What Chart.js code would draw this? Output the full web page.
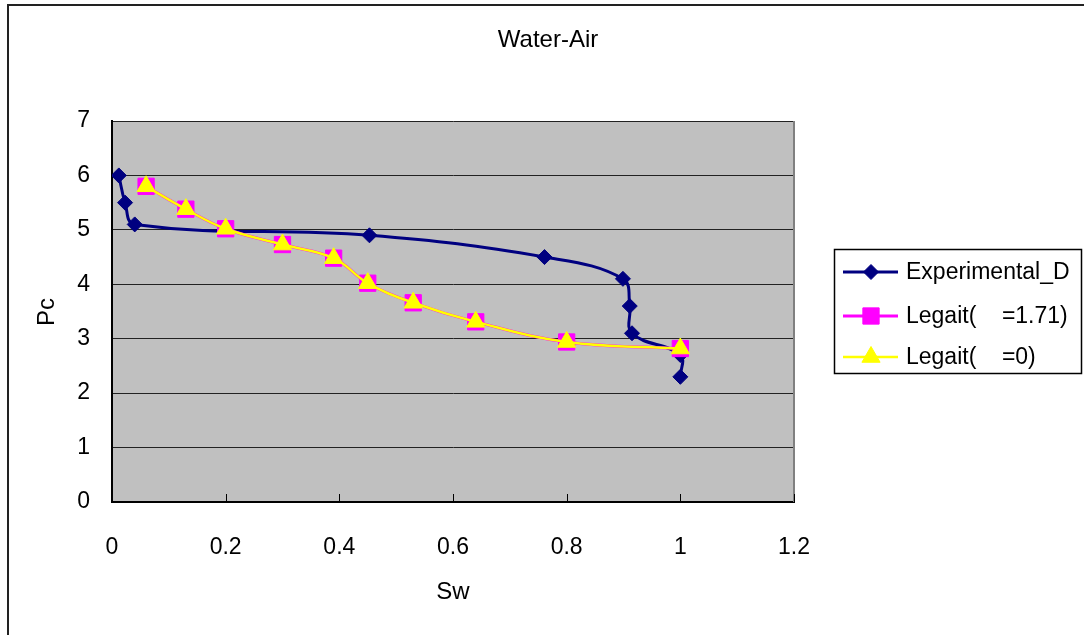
<!DOCTYPE html>
<html>
<head>
<meta charset="utf-8">
<script src="https://cdn.jsdelivr.net/npm/chart.js@4"></script>
<style>
  html, body { margin: 0; padding: 0; background: #fff; }
  canvas { display: block; }
</style>
</head>
<body>
<canvas id="myChart" width="1084" height="635"></canvas>
<script>
// data
const seriesNames = ['Experimental_D', 'Legait(    =1.71)', 'Legait(    =0)'];
const expSw = [0.012, 0.023, 0.04, 0.453, 0.761, 0.899, 0.911, 0.915, 1.0, 1.0];
const expPc = [6.0, 5.5, 5.1, 4.9, 4.5, 4.1, 3.6, 3.1, 2.7, 2.3];
const legSw = [0.06, 0.13, 0.2, 0.3, 0.39, 0.45, 0.53, 0.64, 0.8, 1.0];
const leg171Pc = [5.8, 5.38, 5.02, 4.73, 4.48, 4.02, 3.66, 3.31, 2.94, 2.82];
const leg0Pc = [5.8, 5.38, 5.02, 4.73, 4.48, 4.02, 3.66, 3.31, 2.94, 2.82];
const xTicks = [0, 0.2, 0.4, 0.6, 0.8, 1, 1.2];
const yTicks = [0, 1, 2, 3, 4, 5, 6, 7];

const SANS = "'Liberation Sans', Arial, sans-serif";

const toPts = (xs, ys) => xs.map((x, i) => ({ x: x, y: ys[i] }));

const colors = ['#000080', '#FF00FF', '#FFFF00'];
const styles = ['rectRot', 'rect', 'triangle'];

const chartDeco = {
  id: 'chartDeco',
  beforeDraw(chart) {
    const ctx = chart.ctx;
    const a = chart.chartArea;
    ctx.save();
    ctx.fillStyle = '#fff';
    ctx.fillRect(0, 0, chart.width, chart.height);
    ctx.strokeStyle = '#222';
    ctx.lineWidth = 2;
    ctx.strokeRect(8, 5, chart.width + 20, chart.height + 20);
    ctx.fillStyle = '#C0C0C0';
    ctx.fillRect(a.left, a.top, a.right - a.left, a.bottom - a.top);
    ctx.restore();
  },
  afterDraw(chart) {
    const ctx = chart.ctx;
    const a = chart.chartArea;
    const xs = chart.scales.x;
    ctx.save();
    // right edge of plot area
    ctx.strokeStyle = '#808080';
    ctx.lineWidth = 2;
    ctx.beginPath();
    ctx.moveTo(a.right, a.top);
    ctx.lineTo(a.right, a.bottom);
    ctx.stroke();
    // small inner ticks on the x axis
    ctx.strokeStyle = '#000';
    ctx.lineWidth = 1;
    xTicks.forEach(v => {
      const px = Math.round(xs.getPixelForValue(v)) + 0.5;
      ctx.beginPath();
      ctx.moveTo(px, a.bottom);
      ctx.lineTo(px, a.bottom - 8);
      ctx.stroke();
    });
    // titles
    ctx.fillStyle = '#000';
    ctx.textAlign = 'center';
    ctx.textBaseline = 'middle';
    ctx.font = '24px ' + SANS;
    ctx.fillText('Water-Air', 548, 40);
    ctx.font = '24px ' + SANS;
    ctx.fillText('Sw', 453, 592);
    ctx.translate(47, 312);
    ctx.rotate(-Math.PI / 2);
    ctx.fillText('Pc', 0, 0);
    ctx.restore();

    // legend
    ctx.save();
    ctx.strokeStyle = '#000';
    ctx.lineWidth = 1.5;
    ctx.strokeRect(834.5, 249.5, 247, 124);
    const rows = [272, 316, 357];
    chart.data.datasets.forEach((ds, i) => {
      const y = rows[i];
      ctx.strokeStyle = ds.borderColor;
      ctx.lineWidth = ds.borderWidth;
      ctx.beginPath();
      ctx.moveTo(843, y);
      ctx.lineTo(898, y);
      ctx.stroke();
      ctx.fillStyle = ds.pointBackgroundColor;
      ctx.strokeStyle = ds.pointBorderColor;
      ctx.lineWidth = 1;
      Chart.helpers.drawPoint(ctx, {
        pointStyle: ds.pointStyle,
        radius: ds.pointRadius,
        borderWidth: 1
      }, 871, y);
      ctx.fillStyle = '#000';
      ctx.font = '23px ' + SANS;
      ctx.textAlign = 'left';
      ctx.textBaseline = 'middle';
      ctx.fillText(ds.label, 906, y + 1);
    });
    ctx.restore();
  }
};

const ctx = document.getElementById('myChart').getContext('2d');
const series = [toPts(expSw, expPc), toPts(legSw, leg171Pc), toPts(legSw, leg0Pc)];
const radii = [7.5, 11.5, 10.5];
const widths = [3, 3, 2.5];

window.myChart = new Chart(ctx, {
  type: 'scatter',
  data: {
    datasets: series.map((pts, i) => ({
      label: seriesNames[i],
      data: pts,
      showLine: true,
      tension: 0.4,
      borderColor: colors[i],
      backgroundColor: colors[i],
      pointBackgroundColor: colors[i],
      pointBorderColor: colors[i],
      borderWidth: widths[i],
      pointBorderWidth: 1,
      pointStyle: styles[i],
      pointRadius: radii[i],
      pointHoverRadius: radii[i],
      order: 3 - i
    }))
  },
  options: {
    responsive: false,
    animation: false,
    devicePixelRatio: 1,
    layout: { padding: { left: 0, top: 121, right: 290, bottom: 0 } },
    plugins: {
      legend: { display: false },
      title: { display: false },
      tooltip: { enabled: false }
    },
    scales: {
      x: {
        type: 'linear',
        min: 0,
        max: 1.2,
        afterBuildTicks: s => { s.ticks = xTicks.map(v => ({ value: v })); },
        afterFit: s => { s.height = 133; },
        ticks: {
          color: '#000',
          font: { family: SANS, size: 23 },
          padding: 32,
          maxRotation: 0,
          callback: v => String(+v.toFixed(1))
        },
        grid: { drawOnChartArea: false, drawTicks: false },
        border: { color: '#000', width: 2 }
      },
      y: {
        min: 0,
        max: 7,
        afterBuildTicks: s => { s.ticks = yTicks.map(v => ({ value: v })); },
        afterFit: s => { s.width = 112; },
        ticks: {
          color: '#000',
          font: { family: SANS, size: 23 },
          padding: 22
        },
        grid: { color: '#222', lineWidth: 1, drawTicks: false },
        border: { color: '#000', width: 2 }
      }
    }
  },
  plugins: [chartDeco]
});
</script>
</body>
</html>
